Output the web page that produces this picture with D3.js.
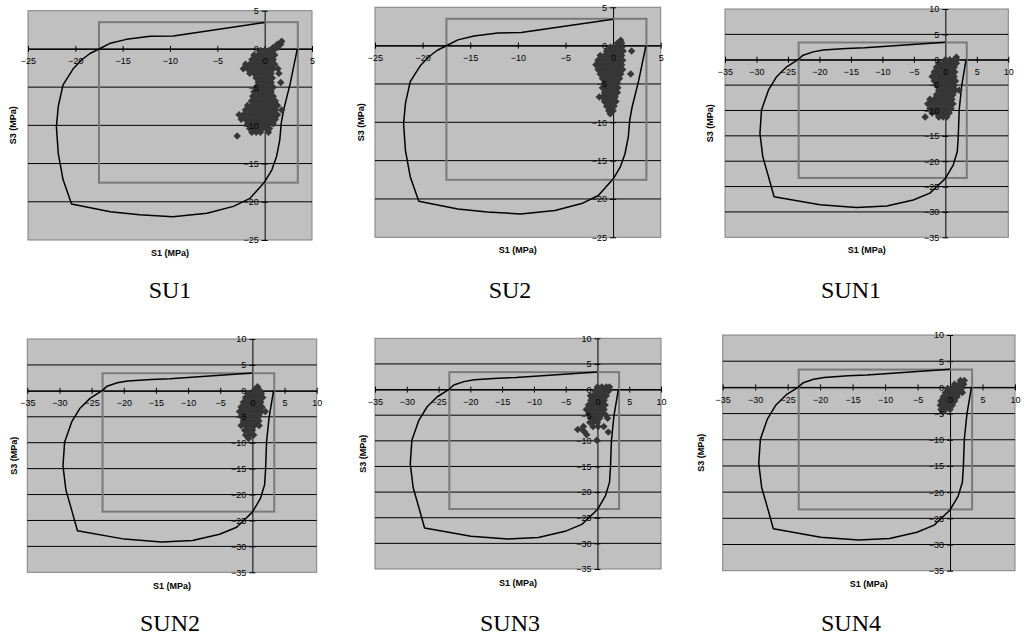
<!DOCTYPE html>
<html>
<head>
<meta charset="utf-8">
<script src="https://cdn.jsdelivr.net/npm/d3@7/dist/d3.min.js"></script>
<style>
  html, body { margin: 0; padding: 0; background: #fff; }
  svg { display: block; }
</style>
</head>
<body>
<svg id="chart" width="1027" height="642"></svg>
<script>
// ---------------- DATA ----------------
const panelNames = ["SU1", "SU2", "SUN1", "SUN2", "SUN3", "SUN4"];
const s1Label = "S1 (MPa)";
const s3Label = "S3 (MPa)";

const suTicksS1 = [-25, -20, -15, -10, -5, 0, 5];
const suTicksS3 = [5, 0, -5, -10, -15, -20, -25];
const sunTicksS1 = [-35, -30, -25, -20, -15, -10, -5, 0, 5, 10];
const sunTicksS3 = [10, 5, 0, -5, -10, -15, -20, -25, -30, -35];

// strength limits (square box): [compression, tension]
const suLimits = [-17.5, 3.5];
const sunLimits = [-23.3, 3.4];

// failure envelopes [S1, S3]
const suEnvelope = [
  [0, 3.45], [-9.65, 1.7], [-12.1, 1.65], [-14.6, 1.25], [-16.3, 0.75], [-17.4, 0.05],
  [-18.45, -0.6], [-19.35, -1.45], [-20.2, -2.55], [-21.3, -4.7], [-21.8, -7.5],
  [-22.0, -10.2], [-21.8, -13.7], [-21.3, -17.1], [-20.4, -20.3], [-16.3, -21.3],
  [-13.2, -21.7], [-9.7, -21.95], [-6.1, -21.5], [-3.3, -20.6], [-1.55, -19.55],
  [0, -17.4], [0.75, -15.85], [1.25, -14.1], [1.6, -11.9], [1.75, -9.7], [2.0, -8.0],
  [2.7, -4.5], [3.45, 0]
];
const sunEnvelope = [
  [0, 3.45], [-12.8, 2.35], [-15.7, 2.2], [-19.4, 1.9], [-21.0, 1.55], [-22.6, 0.9],
  [-23.35, 0.05], [-25.2, -1.4], [-26.8, -3.35], [-28.1, -6.0], [-29.2, -9.9],
  [-29.45, -14.5], [-29.0, -19.1], [-28.1, -23.0], [-27.2, -27.0], [-19.9, -28.6],
  [-14.1, -29.15], [-9.3, -28.85], [-5.1, -27.65], [-2.45, -26.3], [0, -23.4],
  [1.25, -20.75], [1.9, -18.1], [2.05, -15.2], [2.2, -9.9], [2.6, -5.1], [3.3, 0.1]
];

// measured stress states: rows of [S3, [S1 values...]]
const su1Rows = [
  [1.0, [1.8]], [0.6, [1.35, 1.7]], [0.2, [0.9, 1.35]],
  [-0.2, [-0.45, 0, 0.45, 0.9]],
  [-0.8, [-1.125, -0.675, -0.225, 0.225, 0.675, 1.05]],
  [-1.4, [-1.35, -0.9, -0.45, 0, 0.45, 0.9]],
  [-2.0, [-2.025, -1.575, -1.125, -0.675, -0.225, 0.225, 0.675, 1.05]],
  [-2.6, [-2.25, -1.8, -1.35, -0.9, -0.45, 0, 0.45, 0.9, 1.4]],
  [-3.2, [-1.575, -1.125, -0.675, -0.225, 0.225, 0.675, 1.5]],
  [-3.8, [-0.9, -0.45, 0, 0.45, 0.8]],
  [-4.4, [-0.675, -0.225, 0.225, 0.675, 1.7]],
  [-5.0, [-0.9, -0.45, 0, 0.45, 0.9]],
  [-5.6, [-1.125, -0.675, -0.225, 0.225, 0.675]],
  [-6.2, [-1.25, -0.9, -0.45, 0, 0.45, 0.9]],
  [-6.8, [-1.4, -1.125, -0.675, -0.225, 0.225, 0.675, 1.125]],
  [-7.4, [-1.8, -1.35, -0.9, -0.45, 0, 0.45, 0.9, 1.35]],
  [-8.0, [-2.025, -1.575, -1.125, -0.675, -0.225, 0.225, 0.675, 1.125, 1.8]],
  [-8.6, [-2.7, -2.25, -1.8, -1.35, -0.9, -0.45, 0, 0.45, 0.9, 1.35]],
  [-9.2, [-2.475, -2.025, -1.575, -1.125, -0.675, -0.225, 0.225, 0.675, 1.125]],
  [-9.8, [-1.8, -1.35, -0.9, -0.45, 0, 0.45, 0.9]],
  [-10.4, [-1.575, -1.125, -0.675, -0.225, 0.225, 0.5]],
  [-10.9, [-1.35, -0.9, -0.45, 0.4]],
  [-11.4, [-2.9]]
];
const su2Rows = [
  [0.7, [0.8]], [0.3, [0.45, 0.9]],
  [-0.2, [-0.3, 0, 0.45, 0.9]],
  [-0.7, [-0.675, -0.225, 0.225, 0.675, 1.05, 1.95]],
  [-1.3, [-1.35, -0.9, -0.45, 0, 0.45, 0.9]],
  [-1.9, [-1.575, -1.125, -0.675, -0.225, 0.225, 0.675, 1.0]],
  [-2.5, [-1.8, -1.35, -0.9, -0.45, 0, 0.45, 0.9]],
  [-3.1, [-1.575, -1.125, -0.675, -0.225, 0.225, 0.675, 1.0]],
  [-3.7, [-1.35, -0.9, -0.45, 0, 0.45, 0.8, 1.85]],
  [-4.3, [-1.125, -0.675, -0.225, 0.225, 0.675]],
  [-4.9, [-0.9, -0.45, 0, 0.45]],
  [-5.5, [-1.125, -0.675, -0.225, 0.225, 0.5]],
  [-6.1, [-0.9, -0.45, 0, 0.45]],
  [-6.7, [-1.45, -1.125, -0.675, -0.225, 0.225]],
  [-7.3, [-0.9, -0.45, 0, 0.3]],
  [-7.9, [-0.675, -0.225, 0.1]],
  [-8.5, [-0.45, 0]],
  [-8.9, [-0.3]]
];
const sun1Rows = [
  [0.5, [1.75]],
  [0.0, [0, 0.7, 1.4, 1.8]],
  [-0.7, [-1.05, -0.35, 0.35, 1.05, 1.75]],
  [-1.5, [-1.4, -0.7, 0, 0.7, 1.4]],
  [-2.4, [-1.75, -1.05, -0.35, 0.35, 1.05, 1.5]],
  [-3.3, [-2.1, -1.4, -0.7, 0, 0.7, 1.4]],
  [-4.2, [-1.75, -1.05, -0.35, 0.35, 1.05, 1.6]],
  [-5.1, [-1.4, -0.7, 0, 0.7, 1.4]],
  [-6.0, [-1.05, -0.35, 0.35, 1.05, 1.6, 2.2]],
  [-6.9, [-1.4, -0.7, 0, 0.7, 1.2]],
  [-7.8, [-2.45, -1.75, -1.05, -0.35, 0.35, 1.05]],
  [-8.7, [-2.8, -2.1, -1.4, -0.7, 0, 0.7, 1.2]],
  [-9.6, [-2.45, -1.75, -1.05, -0.35, 0.35, 0.9]],
  [-10.5, [-2.1, -1.4, -0.7, 0, 0.6]],
  [-11.3, [-3.2, -1.05, -0.35, 0.2]]
];
const sun2Rows = [
  [0.8, [0.8]],
  [0.2, [0.35, 1.05]],
  [-0.5, [-0.7, 0, 0.7, 1.4]],
  [-1.3, [-1.05, -0.35, 0.35, 1.05, 1.6]],
  [-2.2, [-1.4, -0.7, 0, 0.7, 1.3]],
  [-3.1, [-1.75, -1.05, -0.35, 0.35, 1.05, 1.5]],
  [-4.0, [-2.0, -1.4, -0.7, 0, 0.7, 1.4, 2.0]],
  [-4.9, [-1.75, -1.05, -0.35, 0.35, 1.05]],
  [-5.8, [-1.4, -0.7, 0, 0.7, 1.0]],
  [-6.7, [-1.75, -1.05, -0.35, 0.35, 1.05]],
  [-7.6, [-1.2, -0.7, 0]],
  [-8.5, [-1.05, -0.35, 0.2]],
  [-9.2, [-0.6]]
];
const sun3Rows = [
  [0.5, [0.0, 0.7, 1.4, 1.9]],
  [-0.3, [-0.35, 0.35, 1.05, 1.75]],
  [-1.2, [-1.1, -0.7, 0, 0.7, 1.4]],
  [-2.1, [-1.05, -0.35, 0.35, 1.05]],
  [-3.0, [-1.4, -0.7, 0, 0.7, 1.2]],
  [-3.9, [-1.75, -1.05, -0.35, 0.35, 1.05]],
  [-4.8, [-1.4, -0.7, 0, 0.7, 1.2]],
  [-5.6, [-1.05, -0.35, 0.35, 1.6]],
  [-6.4, [-1.2, -0.7, 0]],
  [-7.2, [-2.2, -0.7, 0.1, 1.0]],
  [-7.8, [-3.1, -2.4]],
  [-8.3, [-2.0, 1.7]],
  [-8.8, [-1.7]],
  [-9.9, [-0.1]]
];
const sun4Rows = [
  [1.3, [1.6, 2.2]],
  [0.6, [0.7, 1.4, 2.1]],
  [-0.2, [-0.35, 0.35, 1.05, 1.75]],
  [-1.0, [-0.7, 0, 0.7, 1.4, 1.9]],
  [-1.8, [-1.05, -0.35, 0.35, 1.05]],
  [-2.6, [-1.4, -0.7, 0, 0.7]],
  [-3.4, [-1.5, -1.05, -0.35, 0.35]],
  [-4.2, [-1.4, -0.7, 0.0]],
  [-4.7, [-1.1]]
];

// ---------------- LAYOUT ----------------
const svg = d3.select("#chart");
const FONT = "Arial, 'Liberation Sans', sans-serif";

const su = { t1: suTicksS1, t3: suTicksS3, env: suEnvelope, lim: suLimits };
const sun = { t1: sunTicksS1, t3: sunTicksS3, env: sunEnvelope, lim: sunLimits };

const panels = [
  { name: panelNames[0], set: su,  rows: su1Rows,  box: [28, 312, 10.7, 240],    s1Y: 256, s3X: 13,  tX: 170, tY: 298 },
  { name: panelNames[1], set: su,  rows: su2Rows,  box: [375, 660.7, 7.3, 237.3], s1Y: 253, s3X: 361, tX: 510, tY: 298 },
  { name: panelNames[2], set: sun, rows: sun1Rows, box: [725, 1008.3, 9, 237.3],  s1Y: 253, s3X: 710, tX: 851, tY: 298 },
  { name: panelNames[3], set: sun, rows: sun2Rows, box: [27.3, 316.7, 339, 572.3], s1Y: 589, s3X: 14,  tX: 170, tY: 631 },
  { name: panelNames[4], set: sun, rows: sun3Rows, box: [375, 661, 338.3, 569],   s1Y: 586, s3X: 363, tX: 510, tY: 631 },
  { name: panelNames[5], set: sun, rows: sun4Rows, box: [722.7, 1015, 335, 570.7], s1Y: 587, s3X: 701, tX: 851, tY: 631 }
];

const diamond = {
  draw(ctx, size) {
    const r = Math.sqrt(size / 2);
    ctx.moveTo(0, -r); ctx.lineTo(r, 0); ctx.lineTo(0, r); ctx.lineTo(-r, 0); ctx.closePath();
  }
};

panels.forEach(p => {
  const [L, R, T, B] = p.box;
  const t1 = p.set.t1, t3 = p.set.t3;
  const x = d3.scaleLinear().domain([d3.min(t1), d3.max(t1)]).range([L, R]);
  const y = d3.scaleLinear().domain([d3.max(t3), d3.min(t3)]).range([T, B]);
  const g = svg.append("g");

  // plot area
  g.append("rect").attr("x", L).attr("y", T).attr("width", R - L).attr("height", B - T)
    .attr("fill", "#c0c0c0").attr("stroke", "#808080").attr("stroke-width", 1);

  // horizontal gridlines
  g.selectAll(".grid").data(t3.filter(v => v !== d3.max(t3) && v !== d3.min(t3)))
    .join("line")
    .attr("x1", L).attr("x2", R)
    .attr("y1", d => y(d)).attr("y2", d => y(d))
    .attr("stroke", "#000").attr("stroke-width", 1);

  // axes crossing at zero
  const xAxis = d3.axisBottom(x).tickValues(t1).tickSize(3).tickSizeOuter(0).tickPadding(6).tickFormat(d3.format("d"));
  const yAxis = d3.axisLeft(y).tickValues(t3).tickSize(3).tickSizeOuter(0).tickPadding(3).tickFormat(d3.format("d"));

  const gx = g.append("g").attr("transform", `translate(0,${y(0)})`).call(xAxis);
  const gy = g.append("g").attr("transform", `translate(${x(0)},0)`).call(yAxis);
  gx.selectAll(".tick line").attr("y1", -3).attr("y2", 3).attr("stroke", "#000");
  gy.selectAll(".tick line").attr("x1", 3).attr("x2", -3).attr("stroke", "#000");
  [gx, gy].forEach(a => {
    a.select(".domain").attr("stroke", "#000").attr("stroke-width", 1);
    a.selectAll(".tick text").remove();
  });

  // strength box
  const lim = p.set.lim;
  g.append("rect")
    .attr("x", x(lim[0])).attr("y", y(lim[1]))
    .attr("width", x(lim[1]) - x(lim[0])).attr("height", y(lim[0]) - y(lim[1]))
    .attr("fill", "none").attr("stroke", "#7a7a7a").attr("stroke-width", 2);

  // failure envelope
  const line = d3.line().x(d => x(d[0])).y(d => y(d[1]));
  g.append("path").datum(p.set.env).attr("d", line)
    .attr("fill", "none").attr("stroke", "#000").attr("stroke-width", 1.5).attr("stroke-linejoin", "round");

  // points
  const pts = p.rows.flatMap(([s3, s1s]) => s1s.map(s1 => [s1, s3]));
  const sym = d3.symbol().type(diamond).size(28);
  g.selectAll(".pt").data(pts).join("path")
    .attr("transform", d => `translate(${x(d[0])},${y(d[1])})`)
    .attr("d", sym).attr("fill", "#363636");

  // tick labels on top
  const lx = g.append("g").attr("transform", `translate(0,${y(0)})`).call(xAxis);
  const ly = g.append("g").attr("transform", `translate(${x(0)},0)`).call(yAxis);
  [lx, ly].forEach(a => {
    a.select(".domain").remove();
    a.selectAll(".tick line").remove();
    a.selectAll(".tick text").attr("font-family", FONT).attr("font-size", 9).attr("fill", "#000");
  });

  // axis titles
  g.append("text").attr("x", (L + R) / 2).attr("y", p.s1Y)
    .attr("text-anchor", "middle").attr("font-family", FONT).attr("font-size", 9).attr("font-weight", "bold")
    .attr("fill", "#000").text(s1Label);
  g.append("text").attr("transform", `translate(${p.s3X},${(T + B) / 2}) rotate(-90)`)
    .attr("text-anchor", "middle").attr("dy", "0.35em").attr("font-family", FONT).attr("font-size", 9).attr("font-weight", "bold")
    .attr("fill", "#000").text(s3Label);

  // panel title
  g.append("text").attr("x", p.tX).attr("y", p.tY).attr("text-anchor", "middle")
    .attr("font-family", "'Times New Roman', 'Liberation Serif', serif").attr("font-size", 24)
    .attr("fill", "#000").text(p.name);
});
</script>
</body>
</html>
